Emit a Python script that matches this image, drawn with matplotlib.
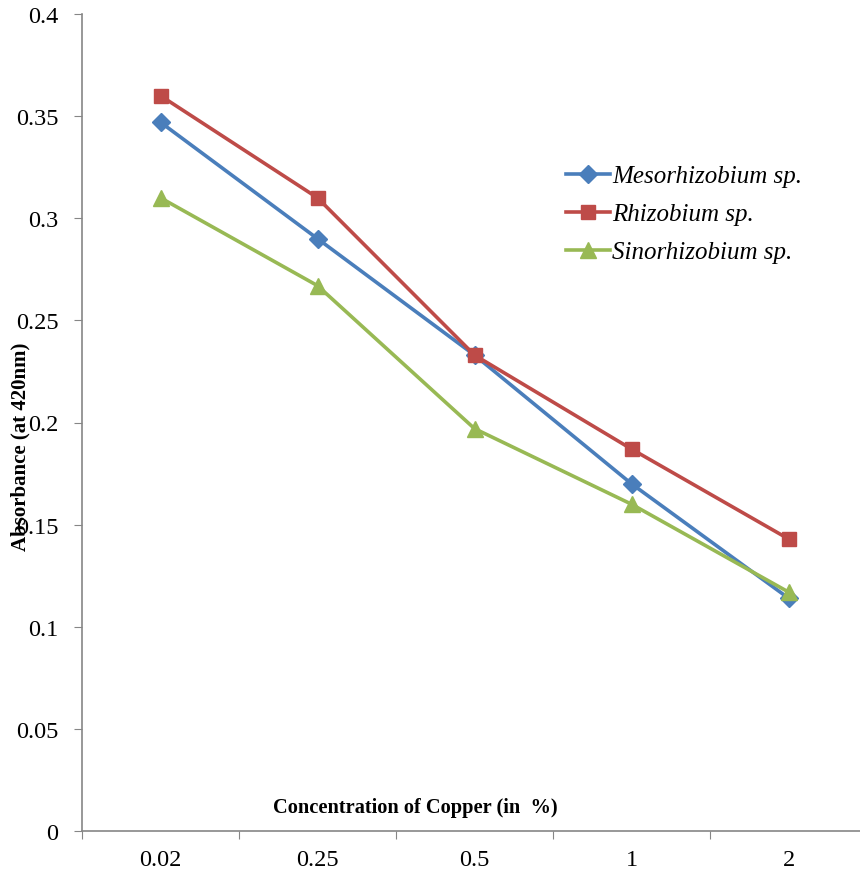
import matplotlib
matplotlib.use("Agg")
import matplotlib.pyplot as plt
from matplotlib.ticker import FixedLocator, NullFormatter

# Data
categories = ["0.02", "0.25", "0.5", "1", "2"]
mesorhizobium = [0.347, 0.290, 0.233, 0.170, 0.114]
rhizobium = [0.360, 0.310, 0.233, 0.187, 0.143]
sinorhizobium = [0.310, 0.267, 0.197, 0.160, 0.117]
y_ticks = [0, 0.05, 0.1, 0.15, 0.2, 0.25, 0.3, 0.35, 0.4]

plt.rcParams['font.family'] = ['Liberation Serif', 'DejaVu Serif']

fig = plt.figure(figsize=(8.6, 8.78), dpi=100)
ax = fig.add_axes([82 / 860, 46 / 878, 785 / 860, 817 / 878])

x = list(range(len(categories)))
series = [
    ("Mesorhizobium sp.", mesorhizobium, "#4A7EBB", "D", 9.5),
    ("Rhizobium sp.", rhizobium, "#BE4B48", "s", 10),
    ("Sinorhizobium sp.", sinorhizobium, "#98B954", "^", 11),
]
for name, vals, color, marker, ms in series:
    ax.plot(x, vals, color=color, marker=marker, markersize=ms,
            linewidth=2.6, label=name, clip_on=False)

ax.set_xlim(-0.5, len(categories) - 0.5)
ax.set_ylim(0, 0.4)
ax.set_yticks(y_ticks)
ax.set_yticklabels([f"{t:g}" for t in y_ticks])

# category boundaries get ticks, category centres get labels
ax.xaxis.set_major_locator(FixedLocator([i - 0.5 for i in range(len(categories) + 1)]))
ax.xaxis.set_major_formatter(NullFormatter())
ax.xaxis.set_minor_locator(FixedLocator(x))
ax.set_xticklabels(categories, minor=True)
ax.tick_params(axis="x", which="major", length=6, color="#868686", direction="out")
ax.tick_params(axis="x", which="minor", length=0, pad=13, labelsize=17.5)
ax.tick_params(axis="y", length=6, color="#868686", direction="out", pad=11, labelsize=17.5)

for side in ["top", "right"]:
    ax.spines[side].set_visible(False)
for side in ["left", "bottom"]:
    ax.spines[side].set_color("#868686")
    ax.spines[side].set_linewidth(1.2)

fig.text(20 / 860, 1 - 447 / 878, "Absorbance (at 420nm)", rotation=90,
         ha="center", va="center", fontsize=15, fontweight="bold")
fig.text(415 / 860, 1 - 808 / 878, "Concentration of Copper (in  %)",
         ha="center", va="center", fontsize=14.7, fontweight="bold")

leg = ax.legend(loc="upper left", bbox_to_anchor=(474 / 785, 1 - 141 / 817),
                frameon=False, prop={"style": "italic", "size": 18},
                handlelength=1.75, handletextpad=0.1, labelspacing=0.62,
                borderaxespad=0)

fig.savefig("out.png", dpi=100)
